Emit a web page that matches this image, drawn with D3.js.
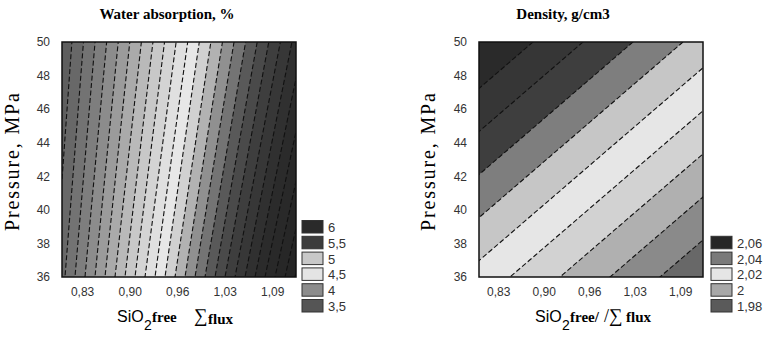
<!DOCTYPE html>
<html>
<head>
<meta charset="utf-8">
<script src="https://d3js.org/d3.v7.min.js"></script>
<style>
body { margin: 0; background: #fff; }
svg { display: block; }
.axis text { font-family: "Liberation Sans", Arial, sans-serif; font-size: 12px; fill: #333; }
.axis path { display: none; }
.legend text { font-family: "Liberation Sans", Arial, sans-serif; font-size: 13px; fill: #333; }
</style>
</head>
<body>
<svg id="chart" width="764" height="339"></svg>
<script>
// grid of the fitted surfaces: SiO2 free / flux (columns) and pressure (rows)
var xGrid = [0.805, 0.845, 0.885, 0.925, 0.965, 1.005, 1.045, 1.085, 1.125];
var pGrid = [36, 38, 40, 42, 44, 46, 48, 50];

var xDomain = [0.805, 1.125];
var xTicks = [0.8325, 0.8975, 0.9625, 1.0275, 1.0925];
var xTickLabels = ["0,83", "0,90", "0,96", "1,03", "1,09"];
var yTicks = [36, 38, 40, 42, 44, 46, 48, 50];

// water absorption, %  (one row per pressure, 36 -> 50)
var waterValues = [
    [3.5700, 3.8625, 4.1550, 4.4475, 4.7400, 5.0325, 5.3250, 5.6175, 5.9100],
    [3.5449, 3.8309, 4.1169, 4.4030, 4.6890, 4.9751, 5.2611, 5.5471, 5.8332],
    [3.5208, 3.8007, 4.0805, 4.3604, 4.6402, 4.9201, 5.2000, 5.4798, 5.7597],
    [3.4977, 3.7717, 4.0456, 4.3196, 4.5935, 4.8674, 5.1414, 5.4153, 5.6893],
    [3.4757, 3.7439, 4.0122, 4.2804, 4.5487, 4.8170, 5.0852, 5.3535, 5.6217],
    [3.4545, 3.7173, 3.9801, 4.2429, 4.5057, 4.7686, 5.0314, 5.2942, 5.5570],
    [3.4341, 3.6917, 3.9493, 4.2069, 4.4645, 4.7221, 4.9797, 5.2372, 5.4948],
    [3.4146, 3.6671, 3.9197, 4.1723, 4.4248, 4.6774, 4.9300, 5.1825, 5.4351]
];
var waterLevels = [3.4, 3.5, 3.6, 3.7, 3.8, 3.9, 4.0, 4.1, 4.2, 4.3, 4.4, 4.5, 4.6, 4.7,
    4.8, 4.9, 5.0, 5.1, 5.2, 5.3, 5.4, 5.5, 5.6, 5.7, 5.8, 5.9];
// grey ramp of the water absorption bands
var waterColorStops = [3.4, 3.49, 3.75, 4.0, 4.25, 4.45, 4.57, 4.71, 4.85, 5.04, 5.22, 5.5, 6.0];
var waterGrayStops = [88, 98, 126, 162, 200, 224, 232, 192, 144, 90, 64, 44, 34];
var waterLegendLabels = ["6", "5,5", "5", "4,5", "4", "3,5"];
var waterLegendColors = ["#2a2a2a", "#3c3c3c", "#c8c8c8", "#e4e4e4", "#8c8c8c", "#555555"];

// density, g/cm3  (one row per pressure, 36 -> 50)
var densityValues = [
    [2.0162, 2.0106, 2.0050, 1.9994, 1.9938, 1.9882, 1.9826, 1.9770, 1.9714],
    [2.0240, 2.0184, 2.0128, 2.0072, 2.0016, 1.9960, 1.9904, 1.9848, 1.9792],
    [2.0318, 2.0262, 2.0206, 2.0150, 2.0094, 2.0038, 1.9982, 1.9926, 1.9870],
    [2.0396, 2.0340, 2.0284, 2.0228, 2.0172, 2.0116, 2.0060, 2.0004, 1.9948],
    [2.0474, 2.0418, 2.0362, 2.0306, 2.0250, 2.0194, 2.0138, 2.0082, 2.0026],
    [2.0552, 2.0496, 2.0440, 2.0384, 2.0328, 2.0272, 2.0216, 2.0160, 2.0104],
    [2.0630, 2.0574, 2.0518, 2.0462, 2.0406, 2.0350, 2.0294, 2.0238, 2.0182],
    [2.0708, 2.0652, 2.0596, 2.0540, 2.0484, 2.0428, 2.0372, 2.0316, 2.0260]
];
var densityLevels = [1.98, 1.99, 2.00, 2.01, 2.02, 2.03, 2.04, 2.05, 2.06];
// first colour is below the lowest level
var densityBandColors = ["#686868", "#8a8a8a", "#b0b0b0", "#d2d2d2", "#e6e6e6",
    "#c6c6c6", "#7e7e7e", "#3e3e3e", "#363636", "#2a2a2a"];
var densityLegendLabels = ["2,06", "2,04", "2,02", "2", "1,98"];
var densityLegendColors = ["#262626", "#7a7a7a", "#e6e6e6", "#a8a8a8", "#5a5a5a"];

var svg = d3.select("#chart");

// grey for the water bands, taken at the middle of each band
var waterGray = d3.scaleLinear().domain(waterColorStops).range(waterGrayStops).clamp(true);
var waterBandColors = [waterLevels[0] - 0.05].concat(waterLevels.map(function(l) { return l + 0.05; }))
    .map(function(v) { var g = Math.round(waterGray(v)); return d3.rgb(g, g, g).formatHex(); });

/* draws one filled contour plot with its axes */
function contourPanel(cfg) {

    var g = svg.append("g");

    var xScale = d3.scaleLinear().domain(xDomain).range([cfg.left, cfg.right]);
    var yScale = d3.scaleLinear().domain([36, 50]).range([cfg.bottom, cfg.top]);

    // d3.contours puts sample i at i + 0.5
    var nx = xGrid.length, ny = pGrid.length;
    var gx = d3.scaleLinear().domain([0.5, nx - 0.5]).range([xScale(xGrid[0]), xScale(xGrid[nx - 1])]);
    var gy = d3.scaleLinear().domain([0.5, ny - 0.5]).range([yScale(pGrid[0]), yScale(pGrid[ny - 1])]);
    var path = d3.geoPath(d3.geoTransform({
        point: function(x, y) { this.stream.point(gx(x), gy(y)); }
    }));

    var contours = d3.contours()
        .size([nx, ny])
        .thresholds(cfg.levels)(d3.merge(cfg.values));

    svg.append("clipPath").attr("id", cfg.id)
        .append("rect")
        .attr("x", cfg.left).attr("y", cfg.top)
        .attr("width", cfg.right - cfg.left).attr("height", cfg.bottom - cfg.top);

    var plot = g.append("g").attr("clip-path", "url(#" + cfg.id + ")");

    plot.append("rect")
        .attr("x", cfg.left).attr("y", cfg.top)
        .attr("width", cfg.right - cfg.left).attr("height", cfg.bottom - cfg.top)
        .attr("fill", cfg.colors[0]);

    plot.selectAll(".band")
        .data(contours).enter().append("path")
        .attr("class", "band")
        .attr("d", path)
        .attr("fill", function(d, i) { return cfg.colors[i + 1]; });

    // dashed isolines
    plot.selectAll(".iso")
        .data(contours).enter().append("path")
        .attr("class", "iso")
        .attr("d", path)
        .attr("fill", "none")
        .attr("stroke", "#111")
        .attr("stroke-width", 1.1)
        .attr("stroke-dasharray", "5,2.5");

    g.append("rect")
        .attr("x", cfg.left).attr("y", cfg.top)
        .attr("width", cfg.right - cfg.left).attr("height", cfg.bottom - cfg.top)
        .attr("fill", "none")
        .attr("stroke", "#111")
        .attr("stroke-width", 1.5);

    // axes
    g.append("g")
        .attr("class", "axis")
        .attr("transform", "translate(" + [cfg.left, 0] + ")")
        .call(d3.axisLeft(yScale).tickValues(yTicks).tickSize(0).tickPadding(12));

    g.append("g")
        .attr("class", "axis")
        .attr("transform", "translate(" + [0, cfg.bottom] + ")")
        .call(d3.axisBottom(xScale).tickValues(xTicks).tickSize(0).tickPadding(10)
            .tickFormat(function(d, i) { return xTickLabels[i]; }));

    // title
    g.append("text")
        .attr("x", cfg.titleX).attr("y", 19)
        .attr("text-anchor", "middle")
        .style("font-family", "'Liberation Serif', 'Times New Roman', serif")
        .style("font-weight", "bold")
        .style("font-size", "15px")
        .text(cfg.title);

    // y label
    g.append("text")
        .attr("text-anchor", "middle")
        .attr("transform", "translate(" + [cfg.yLabelX, 162] + ") rotate(-90)")
        .style("font-family", "'Liberation Serif', 'Times New Roman', serif")
        .style("font-size", "20px")
        .attr("textLength", 138)
        .attr("lengthAdjust", "spacing")
        .text("Pressure, MPa");

    // legend
    var legend = g.append("g").attr("class", "legend");
    legend.selectAll("rect")
        .data(cfg.legendColors).enter().append("rect")
        .attr("x", cfg.legendX)
        .attr("y", function(d, i) { return cfg.legendTop + i * 15.8; })
        .attr("width", 21).attr("height", 12.5)
        .attr("fill", function(d) { return d; })
        .attr("stroke", "#333").attr("stroke-width", 1);
    legend.selectAll("text")
        .data(cfg.legendLabels).enter().append("text")
        .attr("x", cfg.legendX + 26)
        .attr("y", function(d, i) { return cfg.legendTop + i * 15.8 + 11.5; })
        .text(function(d) { return d; });

    return g;
}

var left = contourPanel({
    id: "clipWater", left: 62, right: 296, top: 42, bottom: 277,
    values: waterValues, levels: waterLevels, colors: waterBandColors,
    title: "Water absorption, %", titleX: 167, yLabelX: 19,
    legendX: 302, legendTop: 220.5, legendColors: waterLegendColors, legendLabels: waterLegendLabels
});

var right = contourPanel({
    id: "clipDensity", left: 479, right: 703, top: 42, bottom: 277,
    values: densityValues, levels: densityLevels, colors: densityBandColors,
    title: "Density, g/cm3", titleX: 563, yLabelX: 435,
    legendX: 711, legendTop: 236.3, legendColors: densityLegendColors, legendLabels: densityLegendLabels
});

// x axis titles: SiO2 free / sum flux
function xTitle(parts) {
    var t = svg.append("text").attr("y", 322);
    parts.forEach(function(p) {
        t.append("tspan")
            .attr("x", p[1])
            .attr("y", 322 + p[3])
            .style("font-family", p[2] == "sans" ? "'Liberation Sans', Arial, sans-serif" : "'Liberation Serif', 'Times New Roman', serif")
            .style("font-weight", p[5] ? "bold" : "normal")
            .style("font-size", p[4] + "px")
            .text(p[0]);
    });
}

xTitle([["SiO", 117, "sans", 0, 16, false], ["2", 144, "sans", 8, 14, false],
    ["free", 152, "serif", 0, 15, true], ["\u2211", 194, "serif", 0, 19, false],
    ["flux", 208, "serif", 2, 15, true]]);
xTitle([["SiO", 535, "sans", 0, 16, false], ["2", 562, "sans", 8, 14, false],
    ["free/", 570, "serif", 0, 15, true], ["/", 604, "serif", 0, 18, false],
    ["\u2211", 609, "serif", 0, 19, false], ["flux", 626, "serif", 0, 15, true]]);
</script>
</body>
</html>
